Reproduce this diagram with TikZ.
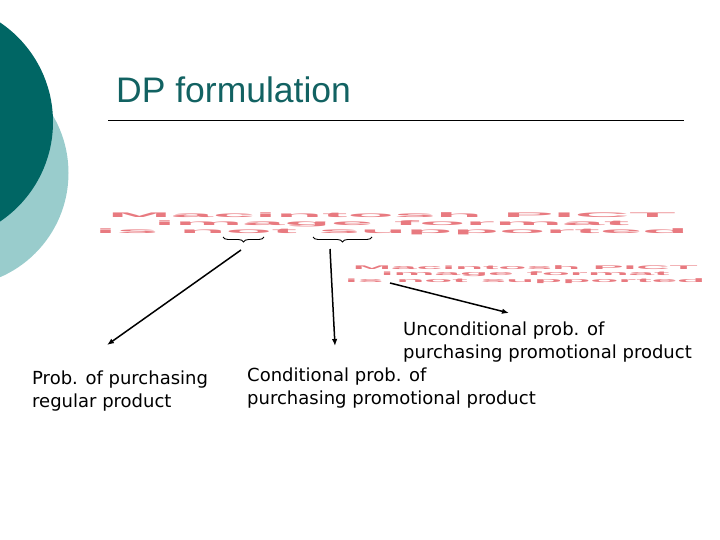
\documentclass[tikz,border=0pt]{standalone}
\usepackage{fontspec}
\usepackage{graphicx}
\setmainfont{Liberation Sans}
\newfontfamily\lblfont{DejaVu Sans}
\usetikzlibrary{arrows.meta,decorations.pathreplacing}
\definecolor{tealdark}{RGB}{0,102,100}
\definecolor{teallight}{RGB}{153,204,204}
\definecolor{titleclr}{RGB}{18,98,98}
\definecolor{pictred}{RGB}{232,122,128}
\tikzset{
  ttl/.style    = {font=\fontsize{35.5}{40}\selectfont, text=titleclr, inner sep=0pt},
  pict/.style   = {text=pictred, font=\bfseries, inner sep=0pt},
  lbl/.style    = {font=\lblfont\fontsize{18}{23}\selectfont, align=left, inner sep=0pt},
  ar/.style     = {-{Latex[length=7pt,width=5.5pt]}, line width=1.5pt},
  brc/.style    = {decorate, decoration={brace, mirror, amplitude=5pt}, line width=0.9pt}
}
\newcommand{\pictmsg}[2]{\resizebox*{#1}{#2}{\begin{tabular}{@{}c@{}}Macintosh PICT\\image format\\is not supported\end{tabular}}}

\begin{document}
\begin{tikzpicture}[x=1pt, y=-1pt]
\useasboundingbox (0,0) rectangle (720,540);
\clip (0,0) rectangle (720,540);
% ---------------- background circles ----------------
\fill[teallight] (-45,173) circle (113.5);
\fill[tealdark] (-67,122) circle (120);

% ---------------- title ----------------
\node[ttl, anchor=base west] (title) at (116,103) {DP formulation};
\coordinate (rulel) at (108,120);
\coordinate (ruler) at (684,120);
\draw[line width=0.8pt] (rulel) -- (ruler);

% ---------------- placeholders ----------------
\node[pict, anchor=north west] (pict1) at (95,212) {\pictmsg{593pt}{24pt}};
\node[pict, anchor=north west] (pict2) at (345,265) {\pictmsg{360pt}{19pt}};

% ---------------- braces ----------------
\coordinate (b1l) at (223,237);
\coordinate (b1r) at (264,237);
\coordinate (b2l) at (313,237);
\coordinate (b2r) at (372,237);
\draw[brc] (b1l) -- (b1r);
\draw[brc] (b2l) -- (b2r);

% ---------------- labels ----------------
\node[lbl, anchor=north west] (reg) at (32,371)
      {Prob. of purchasing\\regular product};
\node[lbl, anchor=north west] (cond) at (247,368)
      {Conditional prob. of\\purchasing promotional product};
\node[lbl, anchor=north west] (uncond) at (403,322)
      {Unconditional prob. of\\purchasing promotional product};

% ---------------- arrows ----------------
\coordinate (a1s) at (241,250);
\coordinate (a1e) at (107,345);
\coordinate (a2s) at (330,249);
\coordinate (a2e) at (335,346);
\coordinate (a3s) at (390,283);
\coordinate (a3e) at (509,313);
\draw[ar] (a1s) -- (a1e);
\draw[ar] (a2s) -- (a2e);
\draw[ar] (a3s) -- (a3e);

\end{tikzpicture}
\end{document}
